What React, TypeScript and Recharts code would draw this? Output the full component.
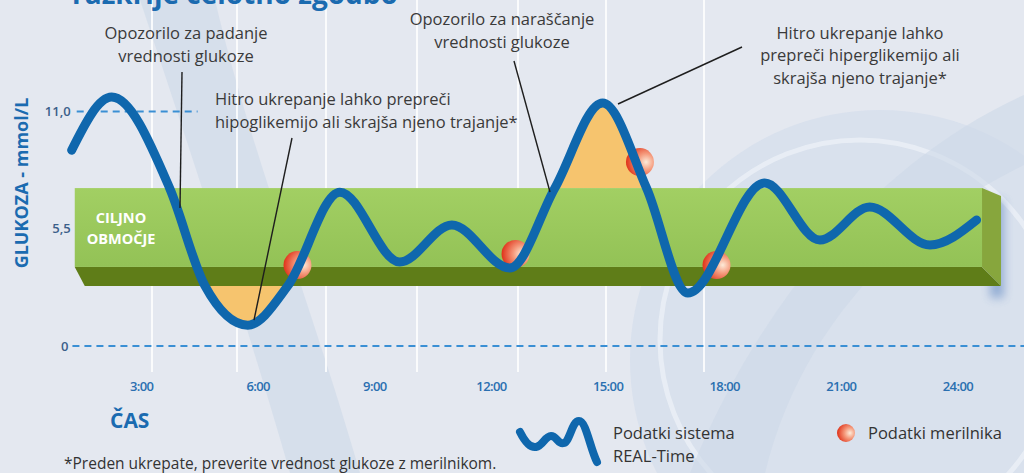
import { ComposedChart, Line, Area, Scatter, XAxis, YAxis, ReferenceArea, ReferenceLine } from 'recharts';

// glucose trace (hour of day -> mmol/L)
const hours = [1.2, 2.23, 3.72, 4.63, 5.73, 6.76, 8.1, 9.64, 10.98, 12.47, 13.63, 14.86, 15.99, 17.05, 19.03, 20.45, 21.73, 23.28, 24.48];
const glucose = [9.19, 11.68, 7.41, 2.82, 0.98, 2.82, 7.22, 3.94, 5.68, 3.66, 7.41, 11.4, 7.41, 2.49, 7.65, 4.97, 6.52, 4.74, 5.91];

// meter readings
const meterHours = [7.01, 12.62, 15.82, 17.79];
const meterValues = [3.8, 4.32, 8.63, 3.8];

// where the trace leaves the target zone
const hypoHours = [4.63, 5.73, 6.76];
const hyperHours = [13.63, 14.86, 15.99];

const xTicks = [3, 6, 9, 12, 15, 18, 21, 24];

const bandTop = 7.41;
const bandMid = 3.71;
const bandLow = 2.82;

const rows = hours.map((h, i) => ({
  h,
  g: glucose[i],
  hypo: hypoHours.includes(h) ? [glucose[i], bandLow] : null,
  hyper: hyperHours.includes(h) ? [bandTop, glucose[i]] : null,
}));
const meter = meterHours.map((h, i) => ({ h, v: meterValues[i] }));

const BLUE = '#0f67ad';
const FONT = '"Open Sans", sans-serif';

const BandShape = (p: any) => {
  const { x, y, width, height } = p;
  const split = y + (height * (bandTop - bandMid)) / (bandTop - bandLow);
  const right = x + width;
  const bottom = y + height;
  return (
    <g>
      <rect x={right + 8} y={y + 12} width={14} height={height} fill="#3f6fb5" opacity={0.45} filter="url(#soft)" />
      <rect x={x} y={y} width={width} height={split - y} fill="url(#bandFront)" />
      <polygon points={`${x},${split} ${right},${split} ${right + 19},${bottom} ${x + 10},${bottom}`} fill="#5f7d18" />
      <polygon points={`${right},${y} ${right + 19},${y + 8} ${right + 19},${bottom} ${right},${split}`} fill="#87a63d" />
    </g>
  );
};

const Ball = (p: any) => <circle cx={p.cx} cy={p.cy} r={14} fill="url(#ball)" />;

const labelStyle = { fill: '#3b5f8a', fontSize: 13, fontWeight: 600, fontFamily: FONT };

export default function App() {
  return (
    <div style={{ position: 'absolute', left: 0, top: 0, width: 1024, height: 473, overflow: 'hidden', background: '#e4e8f0' }}>
      {/* background decoration */}
      <svg width={1024} height={473} style={{ position: 'absolute', left: 0, top: 0 }}>
        <circle cx={880} cy={360} r={250} fill="#d6dfec" opacity={0.8} />
        <circle cx={860} cy={340} r={200} fill="none" stroke="#eef2f8" strokeWidth={5} opacity={0.7} />
        <path d="M140 0 C190 150 240 300 290 473 L360 473 C310 300 250 150 215 0 Z" fill="#cdd8e8" opacity={0.6} />
        <path d="M690 473 C760 300 880 160 1024 95 L1024 165 C900 225 800 330 765 473 Z" fill="#cdd8e8" opacity={0.6} />
        {[152, 237, 326, 417, 518, 606, 704].map((x) => (
          <line key={x} x1={x} y1={0} x2={x} y2={372} stroke="#ffffff" strokeWidth={2} opacity={0.85} />
        ))}
      </svg>

      <div style={{ position: 'absolute', left: 0, top: 0 }}>
        <ComposedChart width={1024} height={473} data={rows} margin={{ top: 5, right: 0, bottom: 0, left: 25 }}>
          <defs>
            <linearGradient id="bandFront" x1="0" y1="0" x2="0" y2="1">
              <stop offset="0%" stopColor="#a2cf63" />
              <stop offset="100%" stopColor="#93c256" />
            </linearGradient>
            <radialGradient id="ball" cx="0.72" cy="0.5" r="0.75">
              <stop offset="0%" stopColor="#fdebd9" />
              <stop offset="40%" stopColor="#f59a7c" />
              <stop offset="100%" stopColor="#de2a12" />
            </radialGradient>
            <filter id="soft" x="-1" y="-1" width="3" height="3">
              <feGaussianBlur stdDeviation="5" />
            </filter>
          </defs>
          <XAxis
            dataKey="h"
            type="number"
            domain={[0, 25.7]}
            allowDataOverflow
            ticks={xTicks}
            tickFormatter={(h: number) => `${h}:00`}
            axisLine={false}
            tickLine={false}
            tickSize={0}
            tickMargin={4}
            height={95}
            tick={{ fill: '#2a6fb0', fontSize: 13, fontWeight: 600, fontFamily: FONT, letterSpacing: -0.6 }}
          />
          <YAxis hide type="number" domain={[-1.5, 16]} allowDataOverflow />
          <ReferenceArea x1={1.28} x2={24.62} y1={bandLow} y2={bandTop} shape={BandShape} zIndex={50} ifOverflow="visible" />
          <Area dataKey="hypo" type="monotone" fill="#f6c46e" fillOpacity={1} stroke="none" isAnimationActive={false} zIndex={60} />
          <Area dataKey="hyper" type="monotone" fill="#f6c46e" fillOpacity={1} stroke="none" isAnimationActive={false} zIndex={60} />
          <ReferenceLine
            segment={[{ x: 1.33, y: 11 }, { x: 4.44, y: 11 }]}
            stroke="#3a8fd4"
            strokeWidth={2}
            strokeDasharray="7 5"
            label={{ value: '11,0', position: 'left', offset: 6, ...labelStyle }}
            zIndex={300}
          />
          <ReferenceLine
            segment={[{ x: 1.33, y: 5.5 }, { x: 1.34, y: 5.5 }]}
            stroke="none"
            label={{ value: '5,5', position: 'left', offset: 6, ...labelStyle }}
            zIndex={300}
          />
          <ReferenceLine
            segment={[{ x: 1.22, y: 0 }, { x: 25.7, y: 0 }]}
            stroke="#3a8fd4"
            strokeWidth={2}
            strokeDasharray="7 5"
            label={{ value: '0', position: 'left', offset: 4, ...labelStyle }}
            zIndex={300}
          />
          <Scatter data={meter} dataKey="v" shape={Ball} isAnimationActive={false} zIndex={350} />
          <Line
            dataKey="g"
            type="monotone"
            stroke={BLUE}
            strokeWidth={9}
            strokeLinecap="round"
            dot={false}
            activeDot={false}
            isAnimationActive={false}
            zIndex={400}
          />
        </ComposedChart>
      </div>

      {/* texts and callouts */}
      <svg width={1024} height={473} style={{ position: 'absolute', left: 0, top: 0, pointerEvents: 'none' }} fontFamily={FONT}>
        <text x={72} y={4} fontSize={28} fontWeight={700} fill="#1b6bb0">razkrije celotno zgodbo</text>

        <text x={0} y={0} transform="translate(28,183) rotate(-90)" textAnchor="middle" fontSize={18} fontWeight={700} fill="#1b6bb0">
          GLUKOZA - mmol/L
        </text>
        <text x={121} y={223} textAnchor="middle" fontSize={14.5} fontWeight={700} fill="#ffffff">CILJNO</text>
        <text x={121} y={244} textAnchor="middle" fontSize={14.5} fontWeight={700} fill="#ffffff">OBMOČJE</text>
        <text x={110} y={428} fontSize={21} fontWeight={700} fill="#1b6bb0">ČAS</text>

        <g fill="#3a3a3a" fontSize={16.5}>
          <text x={186} y={39} textAnchor="middle">Opozorilo za padanje</text>
          <text x={186} y={62} textAnchor="middle">vrednosti glukoze</text>
          <text x={215} y={105}>Hitro ukrepanje lahko prepreči</text>
          <text x={215} y={128}>hipoglikemijo ali skrajša njeno trajanje*</text>
          <text x={502} y={25} textAnchor="middle">Opozorilo za naraščanje</text>
          <text x={502} y={48} textAnchor="middle">vrednosti glukoze</text>
          <text x={860} y={39} textAnchor="middle">Hitro ukrepanje lahko</text>
          <text x={860} y={61} textAnchor="middle">prepreči hiperglikemijo ali</text>
          <text x={860} y={84} textAnchor="middle">skrajša njeno trajanje*</text>
        </g>
        <g stroke="#1e1e1e" strokeWidth={1.4}>
          <line x1={182} y1={72} x2={180} y2={208} />
          <line x1={292} y1={138} x2={254} y2={320} />
          <line x1={514} y1={61} x2={550} y2={192} />
          <line x1={742} y1={47} x2={618} y2={104} />
        </g>

        <path
          d="M520 432 C525 442 530 448 536 447 C543 446 545 436 551 436 C557 436 558 445 564 443 C570 441 572 421 579 421 C586 421 590 448 597 462"
          fill="none"
          stroke={BLUE}
          strokeWidth={8}
          strokeLinecap="round"
        />
        <text x={613} y={439} fontSize={16.5} fill="#333">Podatki sistema</text>
        <text x={613} y={462} fontSize={16.5} fill="#333">REAL-Time</text>
        <defs>
          <radialGradient id="ballLegend" cx="0.72" cy="0.5" r="0.75">
            <stop offset="0%" stopColor="#fdebd9" />
            <stop offset="40%" stopColor="#f59a7c" />
            <stop offset="100%" stopColor="#de2a12" />
          </radialGradient>
        </defs>
        <circle cx={846} cy={433} r={9} fill="url(#ballLegend)" />
        <text x={868} y={439} fontSize={16.5} fill="#333">Podatki merilnika</text>

        <text x={64} y={469} fontSize={15.5} fill="#333">*Preden ukrepate, preverite vrednost glukoze z merilnikom.</text>
      </svg>
    </div>
  );
}
